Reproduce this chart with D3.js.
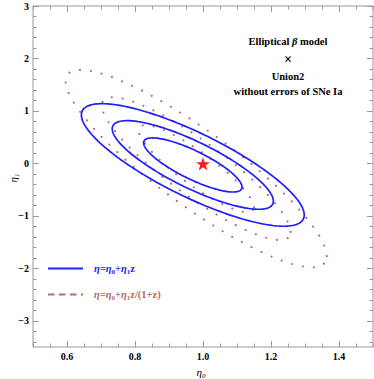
<!DOCTYPE html>
<html><head><meta charset="utf-8">
<script src="https://cdn.jsdelivr.net/npm/d3@7"></script>
<style>body{margin:0;background:#fff}svg{display:block}</style>
</head><body>
<svg id="c" width="374" height="379"></svg>
<script>
// ---- data ----
const xDomain = [0.5, 1.5];
const yDomain = [-3.5, 3];
const xTickLabels = [0.6, 0.8, 1.0, 1.2, 1.4];
const yTickLabels = [-3, -2, -1, 0, 1, 2, 3];
const deltaChi2 = [2.30, 6.17, 11.8];              // 1σ,2σ,3σ contour levels
// model 1: η = η0 + η1 z  (solid blue)
const linCenter = [0.97, -0.03];
const linSigma = [0.0954, 0.340];
const linRho = -0.816;
// model 2: η = η0 + η1 z/(1+z) (dotted brown)
const ratCenter = [0.98, -0.10];
const ratSigma = [0.1118, 0.548];
const ratRho = -0.886;
const starPoint = [1.0, -0.02];
const titleLines = ["Elliptical β model", "×", "Union2", "without errors of SNe Ia"];

// ---- layout ----
const L = 33, R = 373, T = 6, B = 347;
const x = d3.scaleLinear().domain(xDomain).range([L, R]);
const y = d3.scaleLinear().domain(yDomain).range([B, T]);
const svg = d3.select("#c");
const frameCol = "#9a9a9a";
const blue = "#1f1fff", brown = "#b86a66";

function ellipse(center, sig, rho, k) {
  const s = Math.sqrt(k);
  return d3.range(0, 361, 2).map(a => {
    const t = a * Math.PI / 180, c = Math.cos(t), sn = Math.sin(t);
    const dx = sig[0] * c;
    const dy = sig[1] * (rho * c + Math.sqrt(1 - rho * rho) * sn);
    return [center[0] + s * dx, center[1] + s * dy];
  });
}
const line = d3.line().x(d => x(d[0])).y(d => y(d[1])).curve(d3.curveLinearClosed);

const plot = svg.append("g");
deltaChi2.forEach(k => {
  plot.append("path").attr("d", line(ellipse(ratCenter, ratSigma, ratRho, k)))
    .attr("fill", "none").attr("stroke", brown).attr("stroke-width", 2.2)
    .attr("stroke-linecap", "round").attr("stroke-dasharray", "0 11");
});
deltaChi2.forEach(k => {
  plot.append("path").attr("d", line(ellipse(linCenter, linSigma, linRho, k)))
    .attr("fill", "none").attr("stroke", blue).attr("stroke-width", 1.7);
});
plot.append("path").attr("d", d3.symbol(d3.symbolStar, 62)())
  .attr("transform", `translate(${x(starPoint[0])},${y(starPoint[1])})`)
  .attr("fill", "#ff1a1a");

// ---- frame & ticks ----
svg.append("rect").attr("x", L).attr("y", T).attr("width", R - L).attr("height", B - T)
  .attr("fill", "none").attr("stroke", frameCol).attr("stroke-width", 1);
const xMinor = d3.range(0.5, 1.5001, 0.05).map(v => +v.toFixed(2));
const yMinor = d3.range(-3.4, 3.0001, 0.2).map(v => +v.toFixed(1));
const tg = svg.append("g").attr("stroke", frameCol).attr("stroke-width", 1);
xMinor.forEach(v => {
  const major = xTickLabels.some(t => Math.abs(t - v) < 1e-6);
  const len = major ? 6 : 3.5;
  const px = Math.round(x(v)) + 0.5;
  tg.append("line").attr("x1", px).attr("x2", px).attr("y1", B).attr("y2", B - len);
  tg.append("line").attr("x1", px).attr("x2", px).attr("y1", T).attr("y2", T + len);
});
yMinor.forEach(v => {
  const major = yTickLabels.some(t => Math.abs(t - v) < 1e-6);
  const len = major ? 6 : 3.5;
  const py = Math.round(y(v)) + 0.5;
  tg.append("line").attr("y1", py).attr("y2", py).attr("x1", L).attr("x2", L + len);
  tg.append("line").attr("y1", py).attr("y2", py).attr("x1", R).attr("x2", R - len);
});
const font = "'Liberation Serif','Times New Roman',serif";
svg.append("g").selectAll("text").data(xTickLabels).join("text")
  .attr("x", d => x(d)).attr("y", 360).attr("text-anchor", "middle")
  .attr("font-family", font).attr("font-weight", "bold").attr("font-size", 10)
  .text(d => d.toFixed(1));
svg.append("g").selectAll("text").data(yTickLabels).join("text")
  .attr("x", 29).attr("y", d => y(d) + 3.5).attr("text-anchor", "end")
  .attr("font-family", font).attr("font-weight", "bold").attr("font-size", 10)
  .text(d => d < 0 ? "\u2212" + Math.abs(d) : d);

// axis labels
const xl = svg.append("text").attr("x", 201).attr("y", 376).attr("text-anchor", "middle")
  .attr("font-family", font).attr("font-style", "italic").attr("font-size", 11);
xl.append("tspan").text("η");
xl.append("tspan").attr("font-size", 7).attr("dy", 2).text("0");
const yl = svg.append("text").attr("transform", "translate(17,178) rotate(-90)")
  .attr("text-anchor", "middle")
  .attr("font-family", font).attr("font-style", "italic").attr("font-size", 11);
yl.append("tspan").text("η");
yl.append("tspan").attr("font-size", 7).attr("dy", 2).text("1");

// title block
const tb = [45, 64, 80, 94.5];
titleLines.forEach((s, i) => {
  const t = svg.append("text").attr("x", 288).attr("y", tb[i]).attr("text-anchor", "middle")
    .attr("font-family", font).attr("font-weight", "bold")
    .attr("font-size", s === "×" ? 14 : 10.5);
  if (s.includes("β")) {
    const p = s.split("β");
    t.append("tspan").text(p[0]);
    t.append("tspan").attr("font-style", "italic").text("β");
    t.append("tspan").text(p[1]);
  } else t.text(s);
});

// legend
const lg = svg.append("g");
lg.append("line").attr("x1", 48).attr("x2", 83).attr("y1", 268.5).attr("y2", 268.5)
  .attr("stroke", blue).attr("stroke-width", 1.8);
lg.append("line").attr("x1", 48).attr("x2", 83).attr("y1", 294.5).attr("y2", 294.5)
  .attr("stroke", brown).attr("stroke-width", 1.8).attr("stroke-dasharray", "6.5 4.5");
function eq(yy, col, tail) {
  const t = lg.append("text").attr("x", 94).attr("y", yy).attr("fill", col)
    .attr("font-family", font).attr("font-weight", "bold").attr("font-size", 10.5);
  t.append("tspan").attr("font-style", "italic").text("η=η");
  t.append("tspan").attr("font-size", 7).attr("dy", 2).text("0");
  t.append("tspan").attr("dy", -2).text("+");
  t.append("tspan").attr("font-style", "italic").text("η");
  t.append("tspan").attr("font-size", 7).attr("dy", 2).text("1");
  t.append("tspan").attr("dy", -2).text(tail);
}
eq(272, blue, "z");
eq(298, brown, "z/(1+z)");
</script>
</body></html>
